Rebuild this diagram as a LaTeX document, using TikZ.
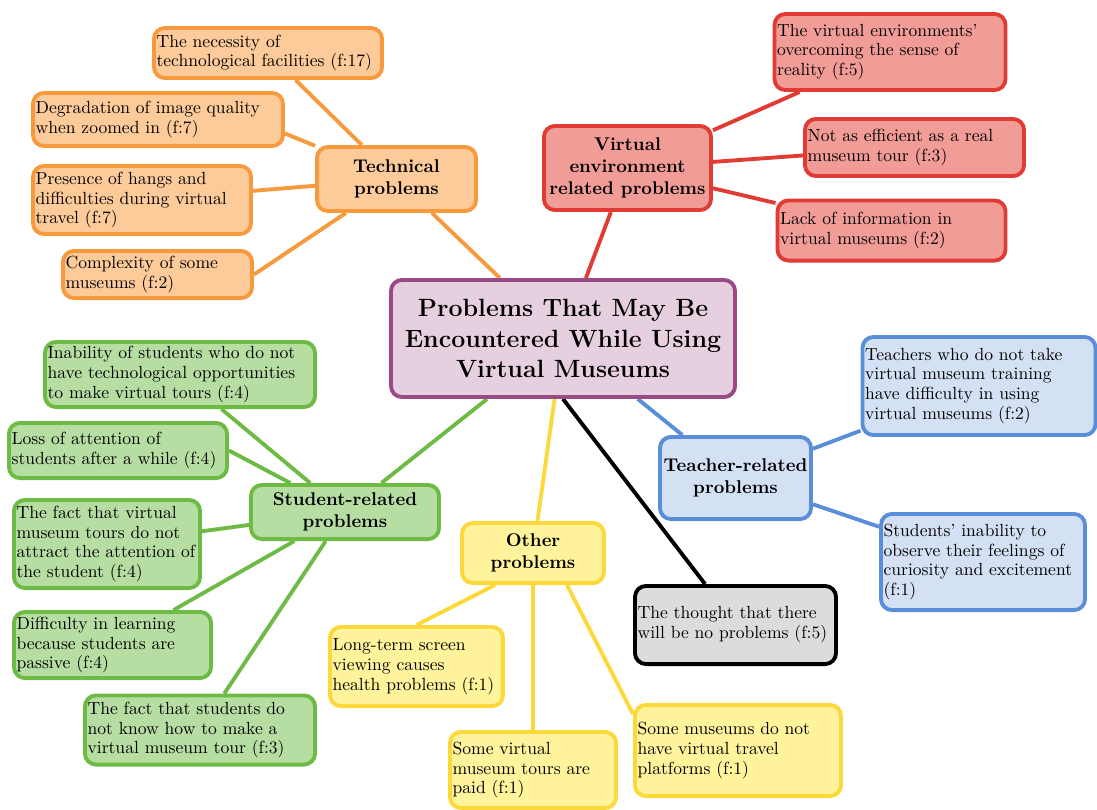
\documentclass[tikz,border=0pt]{standalone}
\usepackage{fontspec}
\usetikzlibrary{backgrounds}
\definecolor{orB}{HTML}{F79A3E}
\definecolor{orF}{HTML}{FDCB9A}
\definecolor{rdB}{HTML}{E03C35}
\definecolor{rdF}{HTML}{F19C97}
\definecolor{blB}{HTML}{5A8ED8}
\definecolor{blF}{HTML}{D4E0F4}
\definecolor{ylB}{HTML}{FDD83A}
\definecolor{ylF}{HTML}{FFF39C}
\definecolor{grB}{HTML}{6DBB45}
\definecolor{grF}{HTML}{B6DEA3}
\definecolor{puB}{HTML}{9A4A84}
\definecolor{puF}{HTML}{E6CFDE}
\definecolor{gyF}{HTML}{DCDCDC}
\begin{document}
\begin{tikzpicture}[x=0.02cm,y=-0.02cm,
  box/.style={rounded corners=0.22cm, line width=2.2pt, inner ysep=0pt},
  leaf/.style={box, align=left, inner xsep=1.5pt, font=\fontsize{10}{11.3}\selectfont},
  head/.style={box, align=center, inner xsep=2pt, font=\bfseries\fontsize{10.5}{12.5}\selectfont},
  sz/.style 2 args={minimum width=#1*0.569pt-2.2pt, minimum height=#2*0.569pt-2.2pt, text width=#1*0.569pt-5.2pt},
  hsz/.style 2 args={minimum width=#1*0.569pt-2.2pt, minimum height=#2*0.569pt-2.2pt},
  orangebox/.style={draw=orB, fill=orF},
  redbox/.style={draw=rdB, fill=rdF},
  bluebox/.style={draw=blB, fill=blF},
  yellowbox/.style={draw=ylB, fill=ylF},
  greenbox/.style={draw=grB, fill=grF},
  conn/.style={line width=2.2pt}
]
\useasboundingbox (0,0) rectangle (1097,809);

% central
\node[box, draw=puB, fill=puF, align=center, hsz={348}{121},
      font=\bfseries\fontsize{14.2}{17.6}\selectfont] (central) at (563,338.5)
  {Problems That May Be\\Encountered While Using\\Virtual Museums};

% technical
\node[head, orangebox, hsz={163}{68}] (tech) at (396.5,179) {Technical\\problems};
\node[leaf, orangebox, sz={232}{54}] (t1) at (268,53) {The necessity of\\technological facilities (f:17)};
\node[leaf, orangebox, sz={254}{57}] (t2) at (158,119.5) {Degradation of image quality\\when zoomed in (f:7)};
\node[leaf, orangebox, sz={222}{72}] (t3) at (142,200) {Presence of hangs and\\difficulties during virtual\\travel (f:7)};
\node[leaf, orangebox, sz={193}{51}] (t4) at (157.5,274.5) {Complexity of some\\museums (f:2)};

% virtual environment
\node[head, redbox, hsz={171}{88}] (ve) at (627.5,168) {Virtual\\environment\\related problems};
\node[leaf, redbox, sz={235}{80}] (v1) at (890,52) {The virtual environments'\\overcoming the sense of\\reality (f:5)};
\node[leaf, redbox, sz={223}{61}] (v2) at (914.5,147.5) {Not as efficient as a real\\museum tour (f:3)};
\node[leaf, redbox, sz={232}{64}] (v3) at (891.5,230.5) {Lack of information in\\virtual museums (f:2)};

% teacher
\node[head, bluebox, hsz={155}{86}] (teach) at (735.5,478) {Teacher-related\\problems};
\node[leaf, bluebox, sz={237}{102}] (b1) at (979,386) {Teachers who do not take\\virtual museum training\\have difficulty in using\\virtual museums (f:2)};
\node[leaf, bluebox, sz={208}{100}] (b2) at (983,562) {Students' inability to\\observe their feelings of\\curiosity and excitement\\(f:1)};

% thought
\node[leaf, draw=black, fill=gyF, sz={205}{82}] (thought) at (735.5,625) {The thought that there\\will be no problems (f:5)};

% other
\node[head, yellowbox, hsz={146}{64}] (other) at (533,553) {Other\\problems};
\node[leaf, yellowbox, sz={177}{83}] (y1) at (416.5,666.5) {Long-term screen\\viewing causes\\health problems (f:1)};
\node[leaf, yellowbox, sz={170}{80}] (y2) at (533,770) {Some virtual\\museum tours are\\paid (f:1)};
\node[leaf, yellowbox, sz={210}{95}] (y3) at (738,750.5) {Some museums do not\\have virtual travel\\platforms (f:1)};

% student
\node[head, greenbox, hsz={192}{58}] (stud) at (345,512) {Student-related\\problems};
\node[leaf, greenbox, sz={274}{69}] (g1) at (180,374.5) {Inability of students who do not\\have technological opportunities\\to make virtual tours (f:4)};
\node[leaf, greenbox, sz={222}{59}] (g2) at (118,450.5) {Loss of attention of\\students after a while (f:4)};
\node[leaf, greenbox, sz={190}{92}] (g3) at (107,544) {The fact that virtual\\museum tours do not\\attract the attention of\\the student (f:4)};
\node[leaf, greenbox, sz={201}{70}] (g4) at (112.5,645) {Difficulty in learning\\because students are\\passive (f:4)};
\node[leaf, greenbox, sz={234}{73}] (g5) at (200,730) {The fact that students do\\not know how to make a\\virtual museum tour (f:3)};

\begin{scope}[on background layer]
  \draw[conn, orB] (central) -- (tech);
  \draw[conn, orB] (tech) -- (t1);
  \draw[conn, orB] (tech) -- ([yshift=-0.28cm]t2.east);
  \draw[conn, orB] (tech) -- (t3);
  \draw[conn, orB] (tech) -- (t4.east);
  \draw[conn, rdB] (central) -- (ve);
  \draw[conn, rdB] (ve) -- (v1);
  \draw[conn, rdB] (ve) -- (v2);
  \draw[conn, rdB] (ve) -- (v3);
  \draw[conn, blB] (central) -- (teach);
  \draw[conn, blB] (teach) -- (b1);
  \draw[conn, blB] (teach) -- (b2);
  \draw[conn, black] (central.south) -- ([xshift=-0.61cm]thought.north);
  \draw[conn, ylB] (central) -- (other);
  \draw[conn, ylB] ([xshift=-0.76cm]other.south) -- (y1.north);
  \draw[conn, ylB] (other) -- (y2);
  \draw[conn, ylB] ([xshift=0.68cm]other.south) -- ([yshift=-0.22cm]y3.north west);
  \draw[conn, grB] (central) -- (stud);
  \draw[conn, grB] (stud) -- (g1);
  \draw[conn, grB] (stud) -- (g2.east);
  \draw[conn, grB] (stud) -- (g3);
  \draw[conn, grB] (stud) -- (g4);
  \draw[conn, grB] (stud) -- (g5);
\end{scope}
\end{tikzpicture}
\end{document}
